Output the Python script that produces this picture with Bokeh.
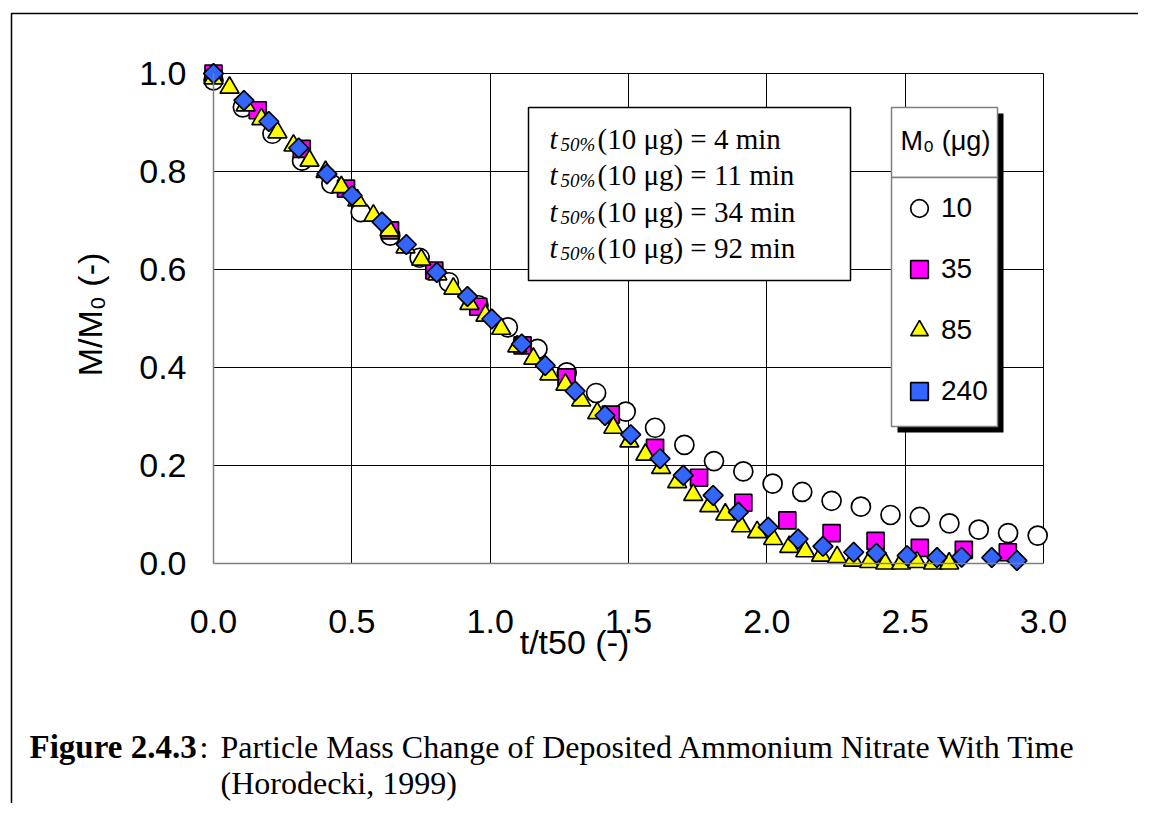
import numpy as np
from bokeh.plotting import figure
from bokeh.models import (Range1d, FixedTicker, PrintfTickFormatter, Label,
                          BoxAnnotation, Legend, LegendItem)
from bokeh.embed import file_html
from bokeh.resources import INLINE

# ---------------- data ----------------
x_ticks = [0.0, 0.5, 1.0, 1.5, 2.0, 2.5, 3.0]
y_ticks = [0.0, 0.2, 0.4, 0.6, 0.8, 1.0]

series_labels = ["10", "35", "85", "240"]
t50_minutes = [4, 11, 34, 92]

m10_x = [0.000, 0.106, 0.213, 0.320, 0.426, 0.532, 0.639, 0.745, 0.851, 0.958,
         1.064, 1.171, 1.277, 1.383, 1.490, 1.596, 1.702, 1.809, 1.915, 2.021,
         2.128, 2.234, 2.340, 2.447, 2.553, 2.660, 2.766, 2.872, 2.979]
m10_y = [0.986, 0.931, 0.877, 0.822, 0.775, 0.717, 0.669, 0.624, 0.574, 0.527,
         0.482, 0.438, 0.390, 0.348, 0.310, 0.277, 0.242, 0.209, 0.188, 0.163,
         0.146, 0.128, 0.116, 0.099, 0.095, 0.082, 0.069, 0.062, 0.057]

m35_x = [0.000, 0.160, 0.319, 0.479, 0.638, 0.798, 0.957, 1.117, 1.276, 1.436,
         1.596, 1.755, 1.915, 2.074, 2.234, 2.393, 2.553, 2.712, 2.871]
m35_y = [1.000, 0.925, 0.846, 0.765, 0.680, 0.598, 0.524, 0.445, 0.380, 0.304,
         0.236, 0.175, 0.124, 0.088, 0.062, 0.046, 0.032, 0.028, 0.023]

m85_x = [0.000, 0.058, 0.116, 0.173, 0.231, 0.289, 0.347, 0.405, 0.462, 0.520,
         0.578, 0.636, 0.694, 0.751, 0.809, 0.867, 0.925, 0.983, 1.040, 1.098,
         1.156, 1.214, 1.272, 1.329, 1.387, 1.445, 1.503, 1.561, 1.618, 1.676,
         1.734, 1.792, 1.850, 1.907, 1.965, 2.023, 2.081, 2.139, 2.196, 2.254,
         2.312, 2.370, 2.428, 2.485, 2.543, 2.601, 2.659]
m85_y = [0.990, 0.971, 0.935, 0.907, 0.880, 0.853, 0.822, 0.799, 0.768, 0.741,
         0.710, 0.680, 0.645, 0.620, 0.590, 0.561, 0.530, 0.506, 0.479, 0.443,
         0.418, 0.386, 0.365, 0.333, 0.307, 0.277, 0.249, 0.222, 0.195, 0.166,
         0.140, 0.117, 0.100, 0.076, 0.064, 0.050, 0.034, 0.025, 0.016, 0.013,
         0.006, 0.003, 0.000, 0.000, 0.003, 0.000, 0.000]

m240_x = [0.000, 0.110, 0.200, 0.308, 0.410, 0.501, 0.609, 0.697, 0.807, 0.918,
          1.006, 1.114, 1.199, 1.307, 1.415, 1.508, 1.614, 1.698, 1.806, 1.897,
          2.005, 2.113, 2.203, 2.314, 2.396, 2.507, 2.615, 2.704, 2.813, 2.904]
m240_y = [1.000, 0.945, 0.902, 0.848, 0.795, 0.751, 0.697, 0.651, 0.594, 0.545,
          0.499, 0.448, 0.404, 0.352, 0.302, 0.263, 0.214, 0.180, 0.139, 0.105,
          0.074, 0.050, 0.035, 0.023, 0.021, 0.016, 0.012, 0.013, 0.012, 0.006]

# ---------------- layout ----------------
# The frame fills the whole canvas; axes sit at x=0 / y=0 (fixed_location).
W, H = 1138, 803
X0_PX, X3_PX = 213, 1043        # pixel positions of x=0 and x=3
Y0_PX, Y1_PX = 563, 73          # pixel positions of y=0 and y=1
KX = (X3_PX - X0_PX) / 3.0
KY = (Y0_PX - Y1_PX) / 1.0


def sx(px):
    return px


def sy(py):
    return H - py


p = figure(width=W, height=H,
           x_range=Range1d(-X0_PX / KX, (W - X0_PX) / KX),
           y_range=Range1d((Y0_PX - H) / KY, Y0_PX / KY),
           output_backend="svg", toolbar_location=None, tools="",
           min_border_left=0, min_border_right=0,
           min_border_top=0, min_border_bottom=0)
p.outline_line_color = None
p.background_fill_color = "white"
p.border_fill_color = "white"

SANS = "Liberation Sans"
SERIF = "Liberation Serif"

# axes (library axes, pinned at the data origin)
for ax, ticks, bnd, fs in ((p.xaxis[0], x_ticks, (0, 3), "34px"),
                           (p.yaxis[0], y_ticks, (0, 1), "34px")):
    ax.fixed_location = 0
    ax.bounds = bnd
    ax.ticker = FixedTicker(ticks=ticks)
    ax.formatter = PrintfTickFormatter(format="%.1f")
    ax.axis_line_color = "#808080"
    ax.axis_line_width = 1.5
    ax.major_tick_line_color = None
    ax.minor_tick_line_color = None
    ax.major_tick_out = 0
    ax.major_tick_in = 0
    ax.major_label_text_font = SANS
    ax.major_label_text_font_size = fs
    ax.major_label_text_color = "black"

p.xaxis[0].major_label_standoff = 46
p.yaxis[0].major_label_standoff = 27

# grid
xg, yg = p.xgrid[0], p.ygrid[0]
xg.ticker = FixedTicker(ticks=x_ticks[1:])
yg.ticker = FixedTicker(ticks=y_ticks[1:])
for g in (xg, yg):
    g.grid_line_color = "black"
    g.grid_line_width = 1
try:
    xg.cross_bounds = (0, 1)
    yg.cross_bounds = (0, 3)
except Exception:
    xg.visible = False
    yg.visible = False
    p.segment(x0=x_ticks[1:], y0=0, x1=x_ticks[1:], y1=1, line_color="black",
              line_width=1, level="underlay")
    p.segment(x0=0, y0=y_ticks[1:], x1=3, y1=y_ticks[1:], line_color="black",
              line_width=1, level="underlay")

# data markers
LW = 1.7
r10 = p.scatter(m10_x, m10_y, marker="circle", size=19, fill_color="white",
                line_color="black", line_width=LW)
r35 = p.scatter(m35_x, m35_y, marker="square", size=17, fill_color="#FF00FF",
                line_color="black", line_width=LW)
r85 = p.scatter(m85_x, m85_y, marker="triangle", size=19, fill_color="#FFFF00",
                line_color="black", line_width=LW)
r240 = p.scatter(m240_x, m240_y, marker="square", angle=np.pi / 4, size=14,
                 fill_color="#3366FF", line_color="black", line_width=LW)


def box(l, r, t, b, **kw):
    kw.setdefault("line_alpha", 1.0)
    return BoxAnnotation(left=sx(l), right=sx(r), top=sy(t), bottom=sy(b),
                         left_units="screen", right_units="screen",
                         top_units="screen", bottom_units="screen", **kw)


def label(x, y, text, **kw):
    # y is the vertical centre of the capital letters
    kw.setdefault("text_color", "black")
    kw.setdefault("text_baseline", "middle")
    return Label(x=sx(x), y=sy(y), x_units="screen", y_units="screen", text=text, **kw)


# axis titles
p.add_layout(label(574, 641, "t/t50 (-)", text_font=SANS, text_font_size="34px",
                   text_align="center"))
p.add_layout(label(89, 314, "M/M\u2080 (-)", text_font=SANS, text_font_size="34px",
                   text_align="center", angle=np.pi / 2))

# legend: shadow, header box, entries box, entries
p.add_layout(box(897, 1003, 113, 432, fill_color="black", fill_alpha=1, line_color=None))
p.add_layout(box(891, 997, 107, 177, fill_color="white", fill_alpha=1,
                 line_color="#808080", line_width=1.5))
p.add_layout(box(891, 997, 177, 426, fill_color="white", fill_alpha=1,
                 line_color="#808080", line_width=1.5))
p.add_layout(label(945, 140, "M\u2080 (\u03bcg)", text_font=SANS, text_font_size="27px",
                   text_align="center"))
legend = Legend(items=[LegendItem(label=lab, renderers=[r])
                       for lab, r in zip(series_labels, [r10, r35, r85, r240])],
                location=(sx(897), sy(413)), margin=0, padding=8, spacing=17,
                glyph_width=44, glyph_height=44, label_standoff=-5,
                label_text_font=SANS, label_text_font_size="28px",
                label_text_color="black",
                border_line_color=None,
                background_fill_alpha=0)
p.add_layout(legend)

# text box with t50 values
p.add_layout(box(528, 850, 107, 280, fill_color="white", fill_alpha=1,
                 line_color="black", line_width=1.5))
baselines = [148, 184.5, 221, 257]
for v, b in zip(t50_minutes, baselines):
    p.add_layout(label(549, b - 10, "t", text_font=SERIF, text_font_style="italic",
                       text_font_size="29px"))
    p.add_layout(label(560, b - 4.5, "50%", text_font=SERIF, text_font_style="italic",
                       text_font_size="19px"))
    p.add_layout(label(597, b - 10, "(10 \u03bcg) = %d min" % v, text_font=SERIF,
                       text_font_size="29px"))

# caption
p.add_layout(label(29, 746, "Figure 2.4.3", text_font=SERIF, text_font_style="bold",
                   text_font_size="33px"))
p.add_layout(label(199, 746, ":", text_font=SERIF, text_font_size="32px"))
p.add_layout(label(220, 746, "Particle Mass Change of Deposited Ammonium Nitrate With Time",
                   text_font=SERIF, text_font_size="32px"))
p.add_layout(label(220, 782, "(Horodecki, 1999)", text_font=SERIF, text_font_size="32px"))

# page frame lines (left and top)
p.add_layout(box(11, 4000, 13, 4000, fill_color=None, line_color="black", line_width=1.5))

open("out.html", "w").write(file_html(p, INLINE))
